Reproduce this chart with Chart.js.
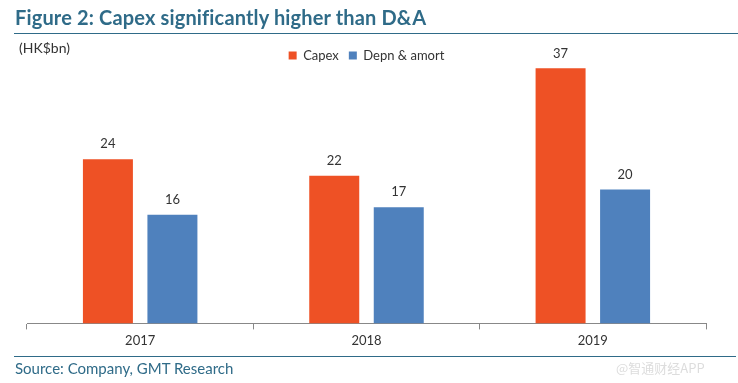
<!DOCTYPE html>
<html><head><meta charset="utf-8">
<script src="https://cdn.jsdelivr.net/npm/chart.js@4"></script>
<style>
html,body{margin:0;padding:0;background:#fff;}
#wrap{position:relative;width:738px;height:383px;overflow:hidden;}
#c{position:absolute;left:0;top:0;}
.t{position:absolute;font-family:Lato,"Open Sans",sans-serif;white-space:nowrap;}
#title{left:15px;top:5px;font-size:20px;font-weight:bold;color:#2f6b88;letter-spacing:0.15px;}
#line1{position:absolute;left:14px;top:33px;width:724px;height:1px;background:#2f6b88;}
#unit{left:19px;top:39px;font-size:14px;color:#333;}
#line2{position:absolute;left:14px;top:356px;width:722px;height:1px;background:#2f6b88;}
#src{left:15px;top:359px;font-size:15px;color:#2f6b88;}
#wm{left:616px;top:358px;font-size:13px;color:#ddd;font-family:"Noto Sans CJK SC",sans-serif;}
</style></head>
<body><div id="wrap">
<canvas id="c" width="738" height="383"></canvas>
<div class="t" id="title">Figure 2: Capex significantly higher than D&amp;A</div>
<div id="line1"></div>
<div class="t" id="unit">(HK$bn)</div>
<div id="line2"></div>
<div class="t" id="src">Source: Company, GMT Research</div>
<div class="t" id="wm">@智通财经APP</div>
</div>
<script>
const categories = ["2017", "2018", "2019"];
const capex = [24.0, 21.6, 37.3];
const depn = [15.9, 17.0, 19.6];
const seriesNames = ["Capex", "Depn & amort"];

const FONT = 'Lato, "Open Sans", sans-serif';
const labelPlugin = {
  id: 'valLabels',
  afterDatasetsDraw(chart) {
    const ctx = chart.ctx;
    ctx.save();
    ctx.font = '13px ' + FONT;
    ctx.fillStyle = '#333';
    ctx.textAlign = 'center';
    ctx.textBaseline = 'middle';
    chart.data.datasets.forEach((ds, i) => {
      chart.getDatasetMeta(i).data.forEach((bar, j) => {
        ctx.fillText(Math.round(ds.data[j]).toString(), bar.x, bar.y - 15);
      });
    });
    ctx.restore();
  }
};
// nudge legend down so it sits inside the top of the plot area, as in the reference
const legendShift = {
  id: 'legendShift',
  afterLayout(chart) {
    const lg = chart.legend;
    if (!lg) return;
    const d = 5;
    lg.top += d; lg.bottom += d;
    (lg.legendHitBoxes || []).forEach(b => { b.top += d; });
  }
};

const chart = new Chart(document.getElementById('c'), {
  type: 'bar',
  data: {
    labels: categories,
    datasets: [
      {label: seriesNames[0], data: capex, backgroundColor: '#ee5125'},
      {label: seriesNames[1], data: depn, backgroundColor: '#4f81bd'}
    ]
  },
  options: {
    responsive: false,
    animation: false,
    devicePixelRatio: 1,
    layout: {padding: {left: 27, right: 32, top: 34, bottom: 30}},
    categoryPercentage: 0.57,
    barPercentage: 0.775,
    plugins: {
      legend: {
        position: 'top',
        align: 'center',
        labels: {boxWidth: 8, boxHeight: 8, color: '#333', font: {size: 13, family: FONT}, padding: 10}
      },
      tooltip: {enabled: false}
    },
    scales: {
      x: {
        grid: {display: true, drawOnChartArea: false, drawTicks: true, tickLength: 6, color: '#888', offset: true},
        border: {display: true, color: '#888'},
        ticks: {color: '#333', font: {size: 13, family: FONT}, padding: 4}
      },
      y: {
        display: false,
        min: 0, max: 37.5
      }
    }
  },
  plugins: [labelPlugin, legendShift]
});
</script>
</body></html>
